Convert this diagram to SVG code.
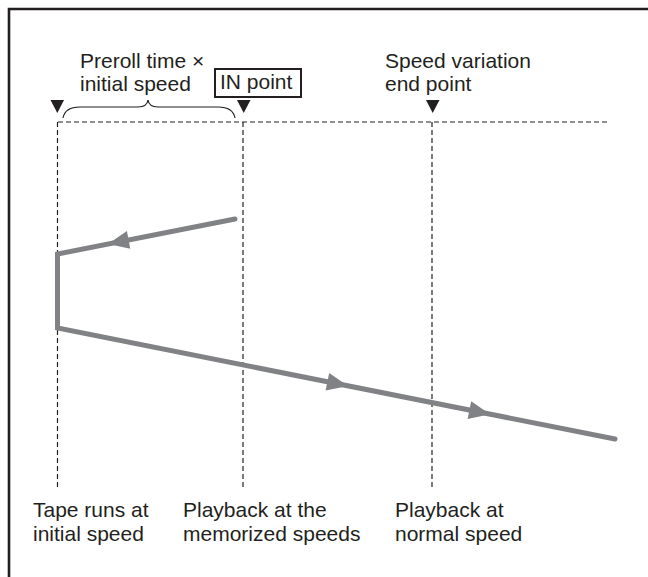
<svg xmlns="http://www.w3.org/2000/svg" width="648" height="577" viewBox="0 0 648 577">
<style>
.t{font-family:"Liberation Sans",Arial,sans-serif;font-size:21px;fill:#231f20}
.dash{stroke:#231f20;stroke-width:1.2;stroke-dasharray:5 3;fill:none}
.tape{stroke:#808285;stroke-width:5;fill:none;stroke-linecap:round;stroke-linejoin:miter}
.arr{fill:#808285}
.tri{fill:#231f20}
</style>
<rect width="648" height="577" fill="#fff"/>
<g id="frame"><path d="M9,577 V9 H648" fill="none" stroke="#231f20" stroke-width="2.6"/></g>
<g id="guides">
<line class="dash" x1="58" y1="122" x2="609" y2="122"/>
<line class="dash" x1="57.5" y1="122" x2="57.5" y2="490"/>
<line class="dash" x1="243" y1="122" x2="243" y2="490"/>
<line class="dash" x1="432" y1="122" x2="432" y2="490"/>
</g>
<g id="markers">
<polygon class="tri" points="50.5,100 64,100 57.3,113"/>
<polygon class="tri" points="237,100 250.5,100 243.7,113"/>
<polygon class="tri" points="426,100 439.5,100 432.7,113"/>
<path d="M63,118 Q65,107 80,107 L138,107 Q147,107 148,100 Q149,107 158,107 L218,107 Q233,107 235,118" fill="none" stroke="#231f20" stroke-width="1.2"/>
</g>
<g id="label-preroll"><text class="t" x="80" y="68">Preroll time ×</text><text class="t" x="80" y="91">initial speed</text></g>
<g id="label-in"><rect x="215" y="69" width="86" height="28" fill="none" stroke="#231f20" stroke-width="2"/><text class="t" x="220" y="89">IN point</text></g>
<g id="label-end"><text class="t" x="385" y="68">Speed variation</text><text class="t" x="385" y="91">end point</text></g>
<g id="connectors">
<path class="tape" d="M235,219 L57.5,254 L57.5,328 L615,439"/>
<polygon class="arr" points="108,244 130.3,248.8 126.9,231.1"/>
<polygon class="arr" points="348,385.9 325.6,390.6 329.2,373"/>
<polygon class="arr" points="490,414.2 467.6,418.9 471.2,401.3"/>
</g>
<g id="label-bottom">
<text class="t" x="33" y="517">Tape runs at</text><text class="t" x="33" y="541">initial speed</text>
<text class="t" x="183" y="517">Playback at the</text><text class="t" x="183" y="541">memorized speeds</text>
<text class="t" x="395" y="517">Playback at</text><text class="t" x="395" y="541">normal speed</text>
</g>
</svg>
